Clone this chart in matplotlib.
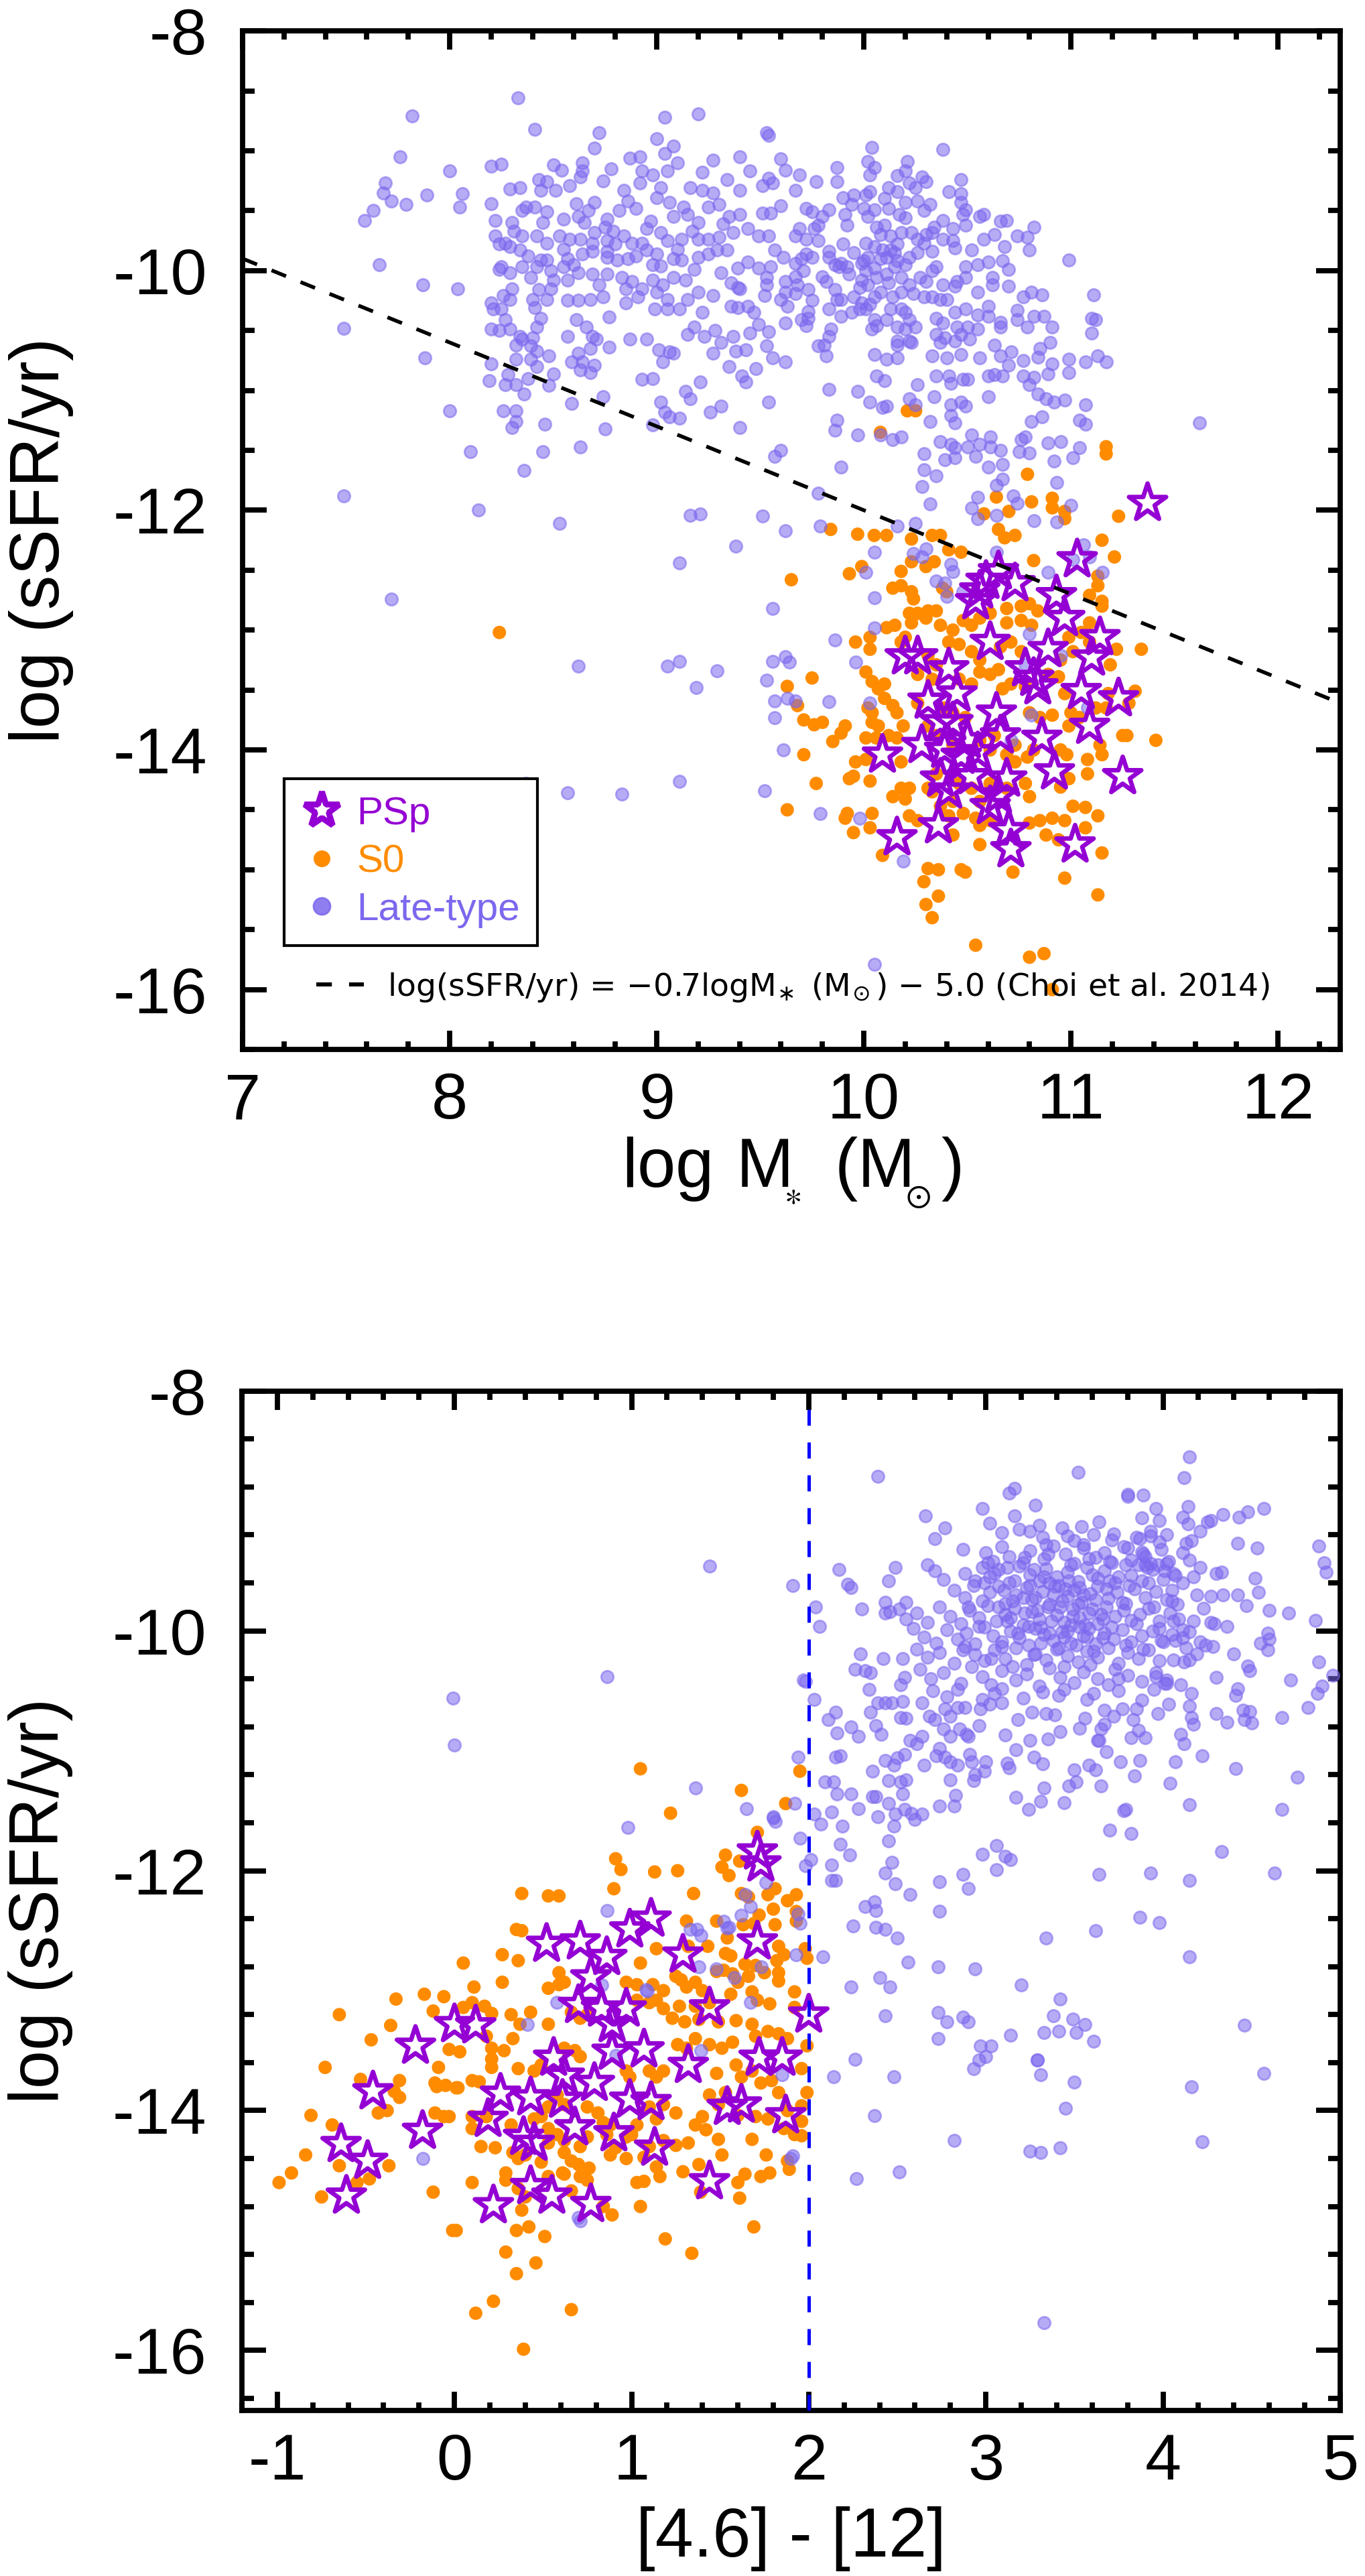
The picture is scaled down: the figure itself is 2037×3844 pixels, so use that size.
import numpy as np
import matplotlib
matplotlib.use('Agg')
import matplotlib.pyplot as plt
from matplotlib.lines import Line2D
from matplotlib.ticker import MultipleLocator
from matplotlib.font_manager import FontProperties

plt.rcParams['font.family'] = ['Liberation Sans', 'DejaVu Sans']
plt.rcParams['mathtext.fontset'] = 'dejavusans'
plt.rcParams['axes.unicode_minus'] = False

LATE = '#7B68EE'
S0C = '#FF8C00'
PSPC = '#9400D3'

# ---------------- top panel: log M* vs log sSFR ----------------
late_top = [
    (8.33, -8.56), (7.82, -8.71), (8.41, -8.82), (7.76, -9.05), (8.00, -9.17), (7.69, -9.27), (7.68, -9.35),
    (7.72, -9.42), (7.79, -9.45), (7.89, -9.37), (7.63, -9.50), (7.59, -9.58), (8.06, -9.36), (8.05, -9.47),
    (8.20, -9.13), (8.25, -9.11), (8.20, -9.44), (8.22, -9.58), (7.66, -9.95), (7.87, -10.12), (8.04, -10.15),
    (7.49, -10.48), (7.88, -10.73), (8.00, -11.17), (8.10, -11.51), (8.36, -11.67), (7.49, -11.88), (8.14, -12.00),
    (8.53, -12.11), (7.72, -12.74), (8.26, -11.17), (8.32, -11.17), (8.32, -11.26), (8.30, -11.31), (8.46, -11.28),
    (8.45, -11.51), (8.63, -11.47), (8.75, -11.32), (8.74, -11.05), (8.59, -11.11), (8.98, -11.29), (9.16, -12.04),
    (9.21, -12.03), (9.51, -12.05), (9.62, -12.17), (9.38, -12.30), (9.11, -12.44), (9.56, -12.82), (9.40, -11.31),
    (9.54, -11.10), (9.26, -11.18), (9.31, -11.13), (9.57, -11.55), (9.60, -11.50), (9.02, -11.10), (9.04, -11.18),
    (9.06, -11.22), (9.11, -11.23), (9.14, -11.01), (9.16, -11.07), (9.21, -10.93), (8.93, -10.91), (8.98, -10.90),
    (8.19, -10.92), (8.27, -10.95), (8.32, -10.95), (8.36, -11.03), (8.38, -10.90), (8.48, -10.96), (8.50, -10.86),
    (8.20, -10.78), (8.28, -10.87), (8.32, -10.74), (8.39, -10.74), (8.42, -10.80), (8.48, -10.71), (8.42, -10.67),
    (8.35, -10.57), (8.32, -10.62), (8.39, -10.63), (8.59, -10.76), (8.63, -10.83), (8.68, -10.85), (8.70, -10.79),
    (8.62, -10.69), (8.64, -10.76), (8.68, -10.65), (8.57, -10.55), (8.66, -10.47), (8.69, -10.55), (8.71, -10.57),
    (8.77, -10.64), (8.61, -10.41), (8.77, -10.39), (8.87, -10.57), (8.95, -10.57), (9.01, -10.66), (9.06, -10.68),
    (9.03, -10.76), (9.08, -10.69), (9.15, -10.53), (9.18, -10.47), (9.23, -10.55), (9.27, -10.69), (9.31, -10.60),
    (9.28, -10.50), (9.37, -10.55), (9.38, -10.67), (9.43, -10.66), (9.35, -10.80), (9.41, -10.88), (9.43, -10.93),
    (9.48, -10.82), (9.53, -10.63), (9.56, -10.73), (9.62, -10.76), (9.62, -10.44), (9.54, -10.51), (9.45, -10.52),
    (9.49, -10.45), (9.47, -10.35), (9.44, -10.30), (9.39, -10.31), (9.36, -10.30), (9.52, -10.21), (9.63, -10.30),
    (9.60, -10.24), (9.53, -10.12), (9.53, -10.06), (9.62, -10.09), (9.62, -10.18), (9.39, -10.14), (9.40, -10.15),
    (9.36, -10.10), (9.31, -10.02), (9.39, -9.98), (9.44, -9.93), (9.49, -9.98), (9.55, -9.97), (9.61, -9.89),
    (9.57, -9.83), (9.54, -9.71), (9.49, -9.71), (9.51, -9.52), (9.55, -9.52), (9.60, -9.46), (9.54, -9.23),
    (9.56, -9.27), (9.51, -9.29), (9.60, -9.07), (9.62, -9.16), (9.53, -8.85), (9.54, -8.87), (9.45, -9.17),
    (9.40, -9.05), (9.34, -9.24), (9.27, -9.08), (9.22, -9.18), (9.20, -8.69), (9.04, -8.72), (9.00, -8.90),
    (9.08, -8.96), (9.04, -9.02), (9.10, -9.10), (9.05, -9.17), (8.98, -9.20), (8.93, -9.17), (8.92, -9.05),
    (8.87, -9.06), (8.92, -9.27), (8.78, -9.15), (8.74, -9.25), (8.72, -8.85), (8.70, -8.98), (8.64, -9.10),
    (8.64, -9.17), (8.63, -9.22), (8.54, -9.16), (8.50, -9.12), (8.43, -9.24), (8.47, -9.26), (8.51, -9.33),
    (8.58, -9.29), (8.44, -9.33), (8.34, -9.31), (8.29, -9.32), (8.37, -9.47), (8.35, -9.50), (8.41, -9.47),
    (8.47, -9.51), (8.55, -9.57), (8.61, -9.44), (8.70, -9.43), (8.67, -9.50), (8.62, -9.55), (8.76, -9.57),
    (8.82, -9.50), (8.84, -9.33), (8.86, -9.42), (8.90, -9.48), (9.00, -9.39), (9.02, -9.31), (9.06, -9.43),
    (9.13, -9.47), (9.15, -9.53), (9.16, -9.31), (9.22, -9.33), (9.27, -9.35), (9.25, -9.47), (9.30, -9.45),
    (9.32, -9.61), (9.40, -9.53), (9.40, -9.33), (9.44, -9.65), (9.37, -9.68), (9.34, -9.83), (9.29, -9.83),
    (9.25, -9.74), (9.20, -9.74), (9.17, -9.67), (9.12, -9.74), (9.05, -9.75), (9.02, -9.68), (8.97, -9.59),
    (8.95, -9.65), (8.93, -9.77), (8.88, -9.77), (8.84, -9.71), (8.79, -9.67), (8.75, -9.64), (8.76, -9.75),
    (8.69, -9.77), (8.63, -9.74), (8.58, -9.74), (8.53, -9.71), (8.47, -9.77), (8.42, -9.71), (8.35, -9.71),
    (8.31, -9.67), (8.27, -9.77), (8.22, -9.71), (8.24, -9.78), (8.29, -9.80), (8.34, -9.83), (8.44, -9.91),
    (8.47, -9.91), (8.42, -9.97), (8.49, -10.00), (8.57, -9.90), (8.64, -9.86), (8.69, -9.84), (8.76, -9.84),
    (8.81, -9.91), (8.86, -9.90), (8.95, -9.83), (9.00, -9.86), (9.02, -9.96), (9.08, -9.90), (9.12, -9.91),
    (9.18, -9.99), (9.20, -9.89), (9.25, -9.86), (9.14, -10.08), (9.08, -10.06), (9.03, -10.12), (8.98, -10.08),
    (8.93, -10.15), (8.88, -10.09), (8.83, -10.06), (8.76, -10.03), (8.69, -10.03), (8.62, -10.02), (8.57, -10.08),
    (8.55, -9.97), (8.49, -10.15), (8.43, -10.16), (8.40, -10.24), (8.47, -10.24), (8.57, -10.25), (8.62, -10.25),
    (8.68, -10.24), (8.74, -10.22), (8.85, -10.27), (8.91, -10.22), (8.99, -10.32), (9.05, -10.32), (9.11, -10.32),
    (9.22, -10.35), (9.27, -10.21), (9.20, -10.18), (9.15, -10.24), (9.05, -10.24), (9.00, -10.18), (8.35, -9.97),
    (8.39, -10.06), (8.25, -9.97), (8.24, -9.99), (8.29, -10.02), (8.30, -10.15), (8.26, -10.21), (8.29, -10.24),
    (8.20, -10.27), (8.21, -10.32), (8.25, -10.32), (8.27, -10.41), (8.20, -10.49), (8.24, -10.50), (8.29, -10.49),
    (8.41, -10.31), (8.44, -10.40), (8.42, -10.47), (8.40, -10.56), (8.34, -10.55), (8.76, -9.89),
    (10.04, -8.97), (10.38, -8.99), (10.02, -9.09), (10.05, -9.14), (10.21, -9.09), (9.87, -9.14), (9.69, -9.20),
    (9.77, -9.26), (9.87, -9.26), (10.03, -9.20), (10.16, -9.21), (10.20, -9.17), (10.47, -9.24), (10.28, -9.22),
    (10.30, -9.26), (10.22, -9.27), (10.25, -9.31), (10.12, -9.31), (10.16, -9.34), (10.01, -9.37), (10.03, -9.34),
    (9.90, -9.39), (9.95, -9.37), (9.94, -9.45), (9.67, -9.33), (10.41, -9.34), (10.47, -9.36), (10.47, -9.43),
    (10.26, -9.42), (10.32, -9.45), (10.20, -9.43), (10.10, -9.40), (10.12, -9.48), (10.05, -9.49), (10.00, -9.48),
    (9.72, -9.48), (9.75, -9.51), (9.83, -9.49), (9.91, -9.53), (10.49, -9.49), (10.48, -9.53), (10.29, -9.50),
    (10.17, -9.53), (10.20, -9.56), (10.58, -9.53), (10.56, -9.55), (10.66, -9.59), (10.69, -9.58), (10.82, -9.64),
    (10.74, -9.71), (10.79, -9.72), (10.80, -9.83), (10.68, -9.80), (10.63, -9.70), (10.58, -9.74), (10.52, -9.83),
    (10.49, -9.62), (10.43, -9.65), (10.38, -9.58), (10.34, -9.64), (10.33, -9.68), (10.38, -9.74), (10.43, -9.75),
    (10.44, -9.81), (10.33, -9.84), (10.29, -9.77), (10.23, -9.68), (10.26, -9.74), (10.18, -9.68), (10.13, -9.71),
    (10.10, -9.62), (10.06, -9.64), (10.01, -9.77), (10.05, -9.80), (10.09, -9.83), (10.13, -9.83), (10.16, -9.78),
    (10.22, -9.89), (10.16, -9.92), (10.11, -9.89), (10.02, -9.89), (9.99, -9.94), (10.01, -10.00), (9.99, -10.08),
    (10.02, -10.12), (10.06, -10.06), (10.11, -10.03), (10.15, -9.97), (10.18, -10.06), (10.22, -10.12), (10.27, -10.06),
    (10.30, -10.09), (10.33, -10.00), (10.35, -9.97), (10.38, -10.12), (10.45, -10.09), (10.44, -10.13), (10.49, -10.06),
    (10.49, -9.97), (10.55, -9.95), (10.60, -9.93), (10.67, -9.92), (10.70, -9.99), (10.62, -10.06), (10.62, -10.12),
    (10.55, -10.18), (10.60, -10.30), (10.70, -10.13), (10.77, -10.22), (10.81, -10.18), (10.86, -10.20), (10.74, -10.33),
    (10.82, -10.38), (10.87, -10.38), (10.91, -10.47), (10.79, -10.47), (10.74, -10.41), (10.66, -10.43), (10.66, -10.47),
    (10.60, -10.38), (10.55, -10.37), (10.49, -10.32), (10.44, -10.35), (10.40, -10.24), (10.37, -10.24), (10.33, -10.22),
    (10.29, -10.22), (10.24, -10.19), (10.18, -10.18), (10.14, -10.22), (10.08, -10.18), (10.05, -10.22), (9.99, -10.27),
    (10.01, -10.32), (9.98, -10.32), (9.94, -10.35), (9.89, -10.38), (9.83, -10.32), (9.87, -10.24), (9.89, -10.24),
    (9.82, -10.09), (9.86, -10.16), (9.73, -10.16), (9.68, -10.12), (9.67, -10.19), (9.73, -10.34), (9.73, -10.40),
    (9.70, -10.41), (9.72, -10.46), (9.84, -10.49), (9.78, -10.63), (9.81, -10.62), (9.82, -10.71), (9.83, -10.55),
    (9.89, -9.94), (9.88, -9.97), (9.92, -9.97), (9.83, -9.84), (9.83, -9.89), (9.75, -9.89), (9.72, -9.86),
    (9.70, -9.90), (9.67, -9.94), (9.71, -10.00), (9.67, -10.05), (9.76, -9.65), (9.78, -9.62), (9.69, -9.65),
    (9.67, -9.71), (9.72, -9.74), (10.13, -10.32), (10.18, -10.32), (10.05, -10.41), (10.04, -10.49), (10.06, -10.46),
    (10.11, -10.41), (10.16, -10.47), (10.20, -10.35), (10.22, -10.41), (10.25, -10.47), (10.20, -10.49), (10.22, -10.59),
    (10.23, -10.60), (10.16, -10.59), (10.16, -10.62), (10.05, -10.70), (10.11, -10.74), (10.16, -10.73), (10.06, -10.88),
    (10.10, -10.92), (9.83, -10.99), (9.97, -11.01), (10.03, -11.10), (10.11, -11.13), (10.22, -11.07), (10.26, -10.95),
    (10.25, -11.12), (10.34, -11.05), (10.35, -10.88), (10.41, -10.88), (10.42, -10.94), (10.48, -10.91), (10.50, -10.91),
    (10.33, -10.71), (10.40, -10.73), (10.47, -10.70), (10.37, -10.60), (10.35, -10.53), (10.39, -10.56), (10.44, -10.59),
    (10.47, -10.53), (10.45, -10.47), (10.38, -10.44), (10.35, -10.40), (10.51, -10.57), (10.50, -10.47), (10.55, -10.49),
    (10.56, -10.73), (10.63, -10.62), (10.66, -10.71), (10.71, -10.68), (10.70, -10.79), (10.60, -10.88), (10.63, -10.87),
    (10.67, -10.88), (10.60, -11.05), (10.77, -10.75), (10.77, -10.88), (10.82, -10.89), (10.80, -10.95), (10.84, -10.72),
    (10.85, -10.65), (10.90, -10.60), (10.91, -10.78), (10.89, -10.86), (10.99, -10.74), (10.99, -10.85), (11.07, -10.76),
    (11.13, -10.71), (11.17, -10.76), (10.99, -9.91), (11.11, -10.20), (11.10, -10.40), (11.12, -10.41), (11.10, -10.52),
    (10.84, -11.03), (10.88, -11.07), (10.92, -11.10), (10.97, -11.08), (11.07, -11.12), (10.42, -11.12), (10.47, -11.10),
    (10.49, -11.13), (10.42, -11.21), (10.44, -11.27), (10.32, -11.26), (10.09, -11.14), (9.87, -11.25), (9.86, -11.33),
    (9.97, -11.37), (10.08, -11.37), (10.14, -11.41), (10.18, -11.39), (10.37, -11.43), (10.42, -11.45), (10.44, -11.48),
    (10.50, -11.47), (10.52, -11.37), (10.54, -11.55), (10.44, -11.56), (10.39, -11.58), (10.29, -11.53), (10.29, -11.66),
    (10.35, -11.71), (10.28, -11.80), (10.32, -11.95), (10.56, -11.45), (10.61, -11.39), (10.61, -11.47), (10.66, -11.50),
    (10.60, -11.64), (10.67, -11.62), (10.67, -11.74), (10.64, -11.79), (10.76, -11.41), (10.78, -11.39), (10.75, -11.51),
    (10.80, -11.52), (10.81, -11.26), (10.86, -11.22), (10.89, -11.44), (10.95, -11.43), (11.04, -11.48), (11.01, -11.56),
    (11.04, -11.25), (11.07, -11.28), (10.92, -11.59), (10.93, -11.77), (11.62, -11.27), (9.89, -11.64), (9.78, -11.86),
    (10.16, -12.13), (10.25, -12.11), (10.55, -11.89), (10.52, -11.98), (10.55, -12.07), (10.64, -12.04), (10.72, -11.88),
    (10.74, -11.94), (10.82, -12.09), (10.93, -12.10), (11.00, -11.96), (9.79, -12.13), (10.05, -12.35), (10.01, -12.52),
    (10.24, -12.36), (10.30, -12.32), (10.28, -12.39), (10.42, -12.45), (10.05, -12.73), (10.64, -12.35), (11.01, -12.41),
    (11.06, -12.29), (10.89, -12.52), (11.15, -12.52),
    (9.11, -14.26), (9.52, -14.34), (9.79, -14.53), (10.05, -15.79), (10.19, -14.93), (9.11, -13.26), (9.29, -13.34),
    (9.19, -13.48), (9.56, -13.26), (9.62, -13.22), (9.64, -13.27), (9.53, -13.42), (9.57, -13.59), (9.63, -13.57),
    (9.67, -13.59), (9.57, -13.73), (9.61, -14.00), (9.83, -13.60), (9.86, -13.08), (9.96, -13.27), (10.05, -12.98),
    (10.35, -12.59), (10.39, -12.61), (10.43, -12.51), (10.40, -12.72), (10.48, -12.68), (11.09, -12.39), (10.80, -13.03),
    (10.78, -13.29), (10.95, -13.21), (10.81, -13.71), (10.71, -13.92), (11.08, -13.65), (10.03, -13.61), (9.98, -14.57),
    (8.37, -14.28), (8.57, -14.36), (8.83, -14.37), (8.62, -13.30), (9.05, -13.30),
    (9.90, -9.78), (9.95, -9.85), (10.00, -9.92), (10.05, -9.98), (9.93, -10.03), (9.98, -10.14), (10.08, -9.90),
    (10.12, -10.10), (9.86, -9.95), (9.80, -10.05), (9.78, -9.75), (10.15, -9.85), (10.20, -9.95), (10.26, -9.85),
    (10.30, -9.70), (9.95, -10.22), (10.03, -10.28), (9.75, -10.25), (9.80, -9.55), (9.92, -9.62), (10.02, -9.55),
    (10.08, -9.70), (8.55, -9.82), (8.60, -9.95), (8.70, -9.68), (8.80, -9.78), (8.90, -9.88), (8.98, -9.95),
    (9.10, -9.82), (9.20, -9.60), (9.08, -9.55), (8.45, -9.60), (8.38, -9.88), (8.50, -10.08), (8.72, -10.12),
    (8.85, -10.15), (9.30, -9.72), (9.35, -9.55), (8.65, -9.60), (8.30, -9.60),
]

s0_top = [
    (10.21, -11.17), (10.25, -11.17), (10.08, -11.35), (11.17, -11.47), (11.17, -11.53), (10.79, -11.70), (9.84, -12.16),
    (9.97, -12.20), (10.05, -12.21), (10.11, -12.21), (10.23, -12.24), (10.33, -12.21), (10.37, -12.21), (10.64, -11.89),
    (10.81, -11.93), (10.91, -11.90), (10.91, -11.98), (10.97, -12.01), (10.97, -12.07), (10.58, -12.03), (10.70, -12.01),
    (11.23, -12.05), (10.65, -12.16), (10.73, -12.21), (10.68, -12.23), (11.15, -12.25), (11.21, -12.39), (10.82, -12.42),
    (10.41, -12.33), (10.47, -12.35), (9.93, -12.53), (9.99, -12.47), (10.23, -12.43), (10.18, -12.51), (10.30, -12.47),
    (10.34, -12.43), (9.65, -12.58), (10.14, -12.65), (10.18, -12.63), (10.23, -12.68), (10.24, -12.74), (10.38, -12.65),
    (10.40, -12.68), (11.13, -12.55), (11.13, -12.63), (11.09, -12.71), (11.15, -12.76), (10.22, -12.86), (10.26, -12.86),
    (10.31, -12.84), (10.35, -12.84), (10.23, -12.94), (10.30, -12.90), (10.37, -12.96), (10.43, -13.00), (10.48, -12.92),
    (10.52, -12.96), (10.56, -12.90), (10.61, -12.86), (10.69, -12.82), (10.76, -12.80), (10.80, -12.78), (10.84, -12.84),
    (10.69, -12.94), (10.76, -12.92), (10.81, -12.96), (11.09, -12.94), (11.15, -12.80), (10.11, -12.98), (10.15, -12.96),
    (10.03, -13.06), (10.18, -13.10), (10.20, -13.06), (11.22, -13.16), (11.34, -13.16), (11.05, -13.02), (11.09, -13.10),
    (9.96, -13.10), (10.03, -13.16), (10.41, -13.10), (10.46, -13.12), (10.52, -13.18), (10.56, -13.25), (10.66, -13.14),
    (10.71, -13.10), (10.76, -13.18), (10.99, -13.06), (11.01, -13.18), (10.95, -13.25), (10.01, -13.35), (10.04, -13.43),
    (10.07, -13.49), (10.10, -13.45), (9.75, -13.40), (9.63, -13.47), (9.68, -13.63), (9.71, -13.75), (9.76, -13.79),
    (9.80, -13.77), (9.85, -13.93), (9.89, -13.86), (9.91, -13.80), (10.02, -13.65), (10.04, -13.69), (10.04, -13.77),
    (10.07, -13.80), (10.10, -13.57), (10.14, -13.63), (10.16, -13.69), (10.19, -13.80), (10.01, -13.90), (10.06, -13.90),
    (10.12, -13.88), (10.16, -13.90), (10.56, -13.35), (10.61, -13.37), (10.65, -13.33), (10.46, -13.41), (10.52, -13.45),
    (10.67, -13.49), (10.71, -13.45), (10.78, -13.47), (10.89, -13.37), (10.94, -13.39), (10.97, -13.53), (11.19, -13.29),
    (11.18, -13.53), (11.31, -13.51), (11.28, -13.61), (11.41, -13.92), (11.12, -13.65), (11.17, -13.65), (11.00, -13.69),
    (11.04, -13.73), (10.99, -13.80), (10.80, -13.69), (10.85, -13.73), (10.91, -13.71), (11.25, -13.88), (11.27, -13.88),
    (11.14, -13.96), (11.15, -14.04), (11.08, -14.08), (11.08, -14.20), (10.95, -14.00), (10.98, -14.04), (10.99, -14.24),
    (10.95, -14.31), (10.82, -14.00), (10.79, -14.06), (10.73, -13.96), (10.69, -14.04), (10.73, -14.10), (10.01, -14.08),
    (9.96, -14.10), (9.93, -14.24), (9.95, -14.22), (10.03, -14.26), (10.18, -14.10), (10.18, -14.32), (10.22, -14.32),
    (10.14, -14.39), (10.20, -14.41), (9.92, -14.53), (9.91, -14.57), (9.95, -14.69), (10.04, -14.53), (10.03, -14.65),
    (9.63, -14.50), (9.77, -14.28), (9.71, -14.04), (10.09, -14.88), (10.22, -14.55), (10.26, -14.59), (10.31, -14.99),
    (10.36, -15.00), (10.29, -15.10), (10.36, -15.22), (10.30, -15.29), (10.33, -15.40), (10.47, -15.00), (10.49, -15.02),
    (10.41, -14.55), (10.48, -14.53), (10.54, -14.57), (10.56, -14.63), (10.61, -14.59), (10.72, -15.02), (10.80, -14.61),
    (10.85, -14.59), (10.88, -14.71), (10.94, -14.75), (10.91, -14.57), (10.97, -14.59), (11.01, -14.47), (11.07, -14.48),
    (11.13, -14.55), (11.07, -14.65), (11.15, -14.86), (10.97, -15.07), (11.13, -15.21), (10.54, -15.63), (10.80, -15.73),
    (10.87, -15.70), (10.91, -16.00), (10.43, -14.71), (10.56, -14.79), (10.31, -13.21), (10.35, -13.29), (10.26, -13.37),
    (10.33, -13.41), (10.26, -13.61), (10.39, -13.65), (10.43, -13.69), (10.49, -13.73), (10.31, -13.80), (10.35, -13.88),
    (10.43, -13.96), (10.56, -13.92), (10.61, -14.00), (10.63, -13.88), (10.35, -14.20), (10.31, -14.32), (10.46, -14.28),
    (10.52, -14.32), (10.61, -14.28), (10.69, -14.32), (10.78, -14.28), (10.80, -14.39), (10.43, -14.43), (10.56, -14.43),
    (10.37, -14.47), (10.33, -14.35), (8.24, -13.02),
]

psp_top = [
    (11.37, -11.94), (11.03, -12.41), (10.65, -12.51), (10.59, -12.59), (10.73, -12.61), (10.54, -12.76), (10.93, -12.71),
    (10.97, -12.90), (11.14, -13.06), (10.61, -13.10), (10.20, -13.22), (10.26, -13.22), (10.89, -13.16), (11.10, -13.23),
    (10.41, -13.32), (10.78, -13.32), (10.84, -13.47), (11.05, -13.51), (11.23, -13.57), (10.31, -13.59), (10.45, -13.53),
    (10.64, -13.69), (11.09, -13.80), (10.37, -13.77), (10.86, -13.90), (10.66, -13.88), (10.50, -13.92), (10.28, -13.96),
    (10.09, -14.04), (10.39, -14.00), (11.25, -14.22), (10.92, -14.18), (10.52, -14.22), (10.37, -14.24), (10.69, -14.24),
    (10.41, -14.34), (10.65, -14.38), (10.61, -14.47), (10.36, -14.63), (10.16, -14.73), (10.70, -14.67), (11.02, -14.79),
    (10.71, -14.83), (10.56, -12.67), (10.82, -13.40), (10.43, -13.77), (10.55, -14.02), (10.47, -14.05),
]

choi_slope = -0.7
choi_icpt = -5.0

# ---------------- bottom panel: [4.6]-[12] vs log sSFR ----------------
late_bot = [
    (2.39, -8.71), (3.52, -8.68), (4.15, -8.55), (4.12, -8.72), (3.13, -8.85), (3.16, -8.81), (2.98, -8.98),
    (3.28, -8.95), (2.66, -9.04), (2.77, -9.14), (2.71, -9.23), (2.87, -9.32), (3.16, -9.04), (3.80, -8.86),
    (3.80, -8.88), (3.89, -8.87), (3.96, -8.98), (4.14, -8.96), (4.57, -8.98), (4.48, -9.01), (4.43, -9.05),
    (4.34, -9.03), (4.27, -9.08), (4.25, -9.09), (4.11, -9.05), (4.14, -9.11), (4.21, -9.17), (3.88, -9.06),
    (3.98, -9.08), (4.02, -9.20), (4.42, -9.27), (4.53, -9.31), (4.88, -9.29), (4.91, -9.43), (4.92, -9.51),
    (4.52, -9.56), (4.30, -9.52), (4.33, -9.51), (4.21, -9.47), (4.54, -9.68), (4.42, -9.70), (4.34, -9.70),
    (4.27, -9.71), (4.19, -9.70), (4.47, -9.79), (4.23, -9.81), (4.60, -9.83), (4.71, -9.85), (4.86, -9.91),
    (4.36, -9.96), (4.29, -9.94), (4.27, -9.93), (4.59, -10.02), (4.60, -10.07), (4.55, -10.10), (4.59, -10.16),
    (4.24, -10.12), (4.28, -10.13), (4.21, -10.09), (4.40, -10.19), (4.48, -10.29), (4.49, -10.33), (4.88, -10.26),
    (4.96, -10.37), (4.90, -10.46), (4.87, -10.52), (4.82, -10.64), (4.72, -10.41), (4.67, -10.72), (4.30, -10.39),
    (4.42, -10.48), (4.41, -10.54), (4.45, -10.66), (4.49, -10.67), (4.46, -10.74), (4.50, -10.77), (4.30, -10.69),
    (4.36, -10.76), (4.15, -10.63), (4.16, -10.72), (4.17, -10.78), (4.10, -10.86), (4.12, -10.94), (4.22, -11.04),
    (4.07, -11.09), (4.04, -11.27), (4.41, -11.15), (4.76, -11.22), (4.15, -11.45), (4.67, -11.49), (4.33, -11.84),
    (4.63, -12.02), (4.15, -12.08), (3.93, -12.02), (3.64, -12.03), (3.87, -12.39), (3.98, -12.43), (3.62, -12.50),
    (3.34, -12.56), (3.70, -11.66), (3.82, -11.69), (3.78, -11.50), (3.79, -11.49), (3.84, -11.21), (3.87, -11.08),
    (3.90, -10.89), (3.86, -10.83), (3.82, -10.89), (3.76, -11.09), (3.68, -11.01), (3.63, -10.91), (3.65, -11.29),
    (3.58, -11.12), (3.62, -11.16), (3.50, -11.16), (3.51, -11.26), (3.47, -11.29), (3.44, -11.43), (3.33, -11.31),
    (3.31, -11.42), (3.24, -11.49), (3.17, -11.39), (3.32, -11.11), (3.27, -11.05), (3.17, -10.99), (3.12, -11.10),
    (3.13, -11.14), (3.00, -11.09), (2.99, -11.17), (2.93, -11.25), (2.94, -11.20), (2.91, -11.03), (2.92, -11.09),
    (2.84, -11.12), (2.80, -11.24), (2.83, -11.37), (2.82, -11.46), (2.74, -11.46), (2.65, -11.12), (2.80, -11.09),
    (2.77, -11.05), (2.74, -10.98), (2.72, -11.04), (2.50, -11.06), (2.54, -11.03), (2.48, -11.12), (2.43, -11.08),
    (2.36, -11.17), (2.45, -11.25), (2.52, -11.26), (2.55, -11.24), (2.53, -11.36), (2.38, -11.38), (2.45, -11.44),
    (2.39, -11.55), (2.49, -11.53), (2.54, -11.49), (2.58, -11.52), (2.60, -11.57), (2.64, -11.53), (2.48, -11.63),
    (2.45, -11.75), (2.47, -11.93), (2.43, -12.02), (2.49, -12.11), (2.57, -12.20), (2.74, -12.09), (2.74, -12.34),
    (2.87, -12.03), (2.90, -12.15), (2.98, -11.86), (3.06, -11.79), (3.11, -11.88), (3.14, -11.91), (3.06, -11.99),
    (2.28, -11.48), (2.36, -11.38), (2.24, -11.36), (2.16, -11.36), (2.09, -11.26), (2.14, -11.26), (2.03, -11.53),
    (2.07, -11.61), (2.13, -11.51), (2.19, -11.63), (2.18, -11.78), (2.23, -11.87), (2.01, -11.91), (1.98, -11.96),
    (2.13, -11.95), (2.15, -12.08), (2.13, -12.08), (2.32, -12.30), (2.37, -12.26), (2.38, -12.33), (2.25, -12.46),
    (2.38, -12.47), (2.43, -12.49), (2.50, -12.56),
    (2.17, -9.49), (2.22, -9.61), (2.24, -9.64), (2.04, -9.80), (2.06, -9.96), (2.30, -9.82), (2.43, -9.76),
    (2.43, -9.85), (2.46, -9.84), (2.55, -9.76), (2.45, -9.58), (2.49, -9.47), (2.29, -10.19), (2.42, -10.23),
    (2.53, -10.23), (2.26, -10.32), (2.32, -10.33), (2.35, -10.35), (1.98, -10.42), (2.03, -10.57), (2.34, -10.49),
    (2.15, -10.68), (2.11, -10.74), (2.35, -10.68), (2.38, -10.79), (2.41, -10.86), (2.24, -10.80), (2.28, -10.88),
    (2.16, -10.85), (2.39, -10.60), (2.43, -10.60), (2.47, -10.60), (2.53, -10.59), (2.52, -10.45), (2.54, -10.39),
    (2.15, -11.05), (2.18, -11.04), (2.57, -10.91), (2.61, -10.94), (2.64, -10.88), (2.52, -10.72), (2.55, -10.73),
    (2.64, -10.60), (2.68, -10.71), (2.71, -10.74), (2.76, -10.82), (2.80, -10.88), (2.85, -10.82), (2.77, -10.65),
    (2.80, -10.71), (2.84, -10.64), (2.88, -10.64), (2.89, -10.86), (2.90, -10.88), (2.96, -10.79), (2.97, -10.65),
    (3.02, -10.61), (3.09, -10.60), (3.11, -10.87), (3.18, -10.74), (3.25, -10.91), (3.35, -10.90), (3.42, -10.84),
    (3.34, -10.69), (3.39, -10.70), (3.26, -10.68), (3.53, -10.81), (3.56, -10.73), (3.64, -10.91), (3.65, -10.82),
    (3.67, -10.78), (3.67, -10.66), (3.72, -10.71), (3.77, -10.65), (3.83, -10.74), (3.85, -10.65), (3.88, -10.58),
    (3.97, -10.69), (4.03, -10.61), (3.95, -10.49), (4.01, -10.44), (4.02, -10.41), (4.10, -10.45), (4.16, -10.52),
    (3.96, -10.38), (4.06, -10.24), (4.12, -10.26), (4.15, -10.24), (4.19, -10.19), (4.07, -10.08), (4.13, -10.14),
    (4.00, -10.09), (4.17, -9.92), (4.11, -9.99), (4.15, -10.01), (4.06, -9.92), (4.08, -9.78), (4.05, -9.75),
    (4.17, -9.55), (4.11, -9.60), (4.07, -9.54), (4.02, -9.44), (4.01, -9.50), (4.15, -9.41), (4.11, -9.35),
    (4.16, -9.25), (4.13, -9.27), (3.91, -9.47), (3.93, -9.44), (3.97, -9.45), (4.03, -9.42), (3.87, -9.23),
    (3.93, -9.21), (3.98, -9.26), (3.99, -9.32), (3.89, -9.36), (3.90, -9.38),
    (3.02, -9.10), (3.09, -9.18), (3.19, -9.15), (3.25, -9.17), (3.30, -9.12), (3.32, -9.22), (3.34, -9.28),
    (3.43, -9.14), (3.46, -9.21), (3.50, -9.25), (3.54, -9.13), (3.55, -9.28), (3.61, -9.20), (3.64, -9.09),
    (3.71, -9.24), (3.72, -9.19), (3.80, -9.31), (3.85, -9.22), (3.93, -9.17),
    (3.00, -9.35), (3.04, -9.42), (3.09, -9.30), (3.13, -9.38), (3.21, -9.43), (3.25, -9.33), (3.33, -9.40),
    (3.38, -9.29), (3.45, -9.36), (3.50, -9.44), (3.55, -9.31), (3.62, -9.39), (3.67, -9.35), (3.71, -9.43),
    (3.78, -9.30), (3.82, -9.41), (3.88, -9.34), (3.90, -9.45),
    (2.67, -9.45), (2.71, -9.50), (2.76, -9.57), (2.88, -9.52), (2.94, -9.58), (2.98, -9.47), (3.02, -9.55),
    (3.07, -9.49), (3.13, -9.60), (3.19, -9.46), (3.25, -9.53), (3.30, -9.58), (3.34, -9.48), (3.40, -9.55),
    (3.46, -9.51), (3.52, -9.59), (3.57, -9.47), (3.63, -9.56), (3.67, -9.50), (3.73, -9.60), (3.79, -9.45),
    (3.82, -9.54), (3.88, -9.58), (3.94, -9.49), (4.00, -9.57), (4.06, -9.52),
    (2.82, -9.66), (2.88, -9.72), (2.93, -9.62), (2.98, -9.75), (3.02, -9.68), (3.07, -9.63), (3.11, -9.77),
    (3.17, -9.70), (3.23, -9.64), (3.26, -9.74), (3.32, -9.67), (3.36, -9.78), (3.41, -9.62), (3.46, -9.71),
    (3.50, -9.66), (3.54, -9.76), (3.59, -9.69), (3.63, -9.63), (3.69, -9.73), (3.74, -9.68), (3.79, -9.77),
    (3.84, -9.65), (3.90, -9.72), (3.96, -9.67), (4.02, -9.74),
    (2.51, -9.82), (2.55, -9.90), (2.61, -9.85), (2.67, -9.93), (2.74, -9.80), (2.80, -9.88), (2.86, -9.94),
    (2.91, -9.83), (2.96, -9.89), (3.01, -9.79), (3.06, -9.92), (3.11, -9.86), (3.16, -9.81), (3.21, -9.95),
    (3.26, -9.84), (3.30, -9.90), (3.35, -9.80), (3.40, -9.87), (3.44, -9.93), (3.49, -9.82), (3.53, -9.89),
    (3.58, -9.85), (3.63, -9.94), (3.68, -9.80), (3.73, -9.88), (3.78, -9.83), (3.82, -9.91), (3.87, -9.86),
    (3.92, -9.81), (3.98, -9.92), (4.04, -9.85), (4.09, -9.90),
    (2.59, -9.98), (2.65, -10.05), (2.72, -10.10), (2.78, -9.99), (2.84, -10.07), (2.89, -10.02), (2.94, -10.11),
    (2.99, -9.97), (3.04, -10.04), (3.09, -10.09), (3.14, -10.00), (3.19, -10.06), (3.24, -10.12), (3.28, -9.98),
    (3.33, -10.03), (3.38, -10.08), (3.43, -10.01), (3.48, -10.10), (3.53, -9.97), (3.57, -10.05), (3.62, -10.11),
    (3.67, -10.02), (3.72, -10.07), (3.77, -9.99), (3.82, -10.09), (3.88, -10.04), (3.94, -10.00), (3.99, -10.08),
    (4.05, -10.03), (4.11, -10.06),
    (2.61, -10.15), (2.67, -10.22), (2.74, -10.18), (2.82, -10.27), (2.88, -10.13), (2.94, -10.20), (2.99, -10.25),
    (3.05, -10.16), (3.11, -10.23), (3.17, -10.14), (3.23, -10.28), (3.28, -10.19), (3.34, -10.24), (3.40, -10.15),
    (3.46, -10.21), (3.52, -10.26), (3.57, -10.17), (3.63, -10.22), (3.69, -10.14), (3.75, -10.27), (3.80, -10.18),
    (3.86, -10.23), (3.92, -10.16), (3.98, -10.25),
    (2.63, -10.32), (2.69, -10.40), (2.76, -10.35), (2.86, -10.44), (2.92, -10.30), (2.98, -10.38), (3.03, -10.45),
    (3.09, -10.33), (3.17, -10.41), (3.23, -10.36), (3.30, -10.46), (3.36, -10.31), (3.42, -10.39), (3.50, -10.43),
    (3.55, -10.34), (3.63, -10.40), (3.69, -10.45), (3.73, -10.32), (3.80, -10.37), (3.88, -10.42), (3.96, -10.35),
    (4.02, -10.44),
    (2.70, -10.50), (2.78, -10.55), (2.84, -10.49), (2.98, -10.57), (3.05, -10.52), (3.09, -10.48), (3.21, -10.56),
    (3.32, -10.51), (3.41, -10.54), (3.44, -10.49), (3.57, -10.57), (3.61, -10.52), (3.75, -10.50),
    (3.28, -9.72), (3.36, -9.60), (3.42, -9.80), (3.48, -9.95), (3.55, -9.70), (3.22, -9.85), (3.31, -9.97),
    (3.45, -9.65), (3.60, -9.82), (3.15, -9.75), (3.38, -9.70), (3.52, -9.78), (3.70, -9.58), (3.25, -9.62),
    (3.58, -9.98), (3.12, -9.92), (3.66, -9.90), (3.44, -10.05),
    (3.05, -9.52), (3.10, -9.66), (3.16, -9.58), (3.21, -9.72), (3.27, -9.49), (3.29, -9.83), (3.33, -9.55),
    (3.37, -9.92), (3.39, -9.63), (3.43, -9.75), (3.47, -9.58), (3.49, -9.88), (3.53, -9.64), (3.56, -9.95),
    (3.60, -9.53), (3.62, -9.74), (3.65, -9.86), (3.68, -9.65), (3.71, -9.97), (3.75, -9.55), (3.77, -9.76),
    (3.81, -9.62), (3.85, -9.94), (3.14, -9.89), (3.18, -10.02), (3.24, -9.96), (3.31, -10.10), (3.36, -10.02),
    (3.41, -10.14), (3.46, -10.00), (3.51, -10.12), (3.55, -10.04), (3.61, -10.17), (3.66, -10.06), (3.07, -9.80),
    (3.09, -10.13), (2.99, -9.60), (2.96, -9.96), (3.92, -9.60), (3.95, -9.80), (3.70, -9.42), (3.58, -9.40),
    (3.48, -9.45), (3.35, -9.36), (3.22, -9.39), (3.12, -9.47), (3.01, -9.43), (3.86, -9.45), (3.79, -10.12),
    (3.89, -10.15), (3.27, -10.20), (3.44, -10.30), (3.59, -10.28), (3.15, -10.30), (3.03, -10.23), (3.75, -10.40),
    (2.90, -9.80), (2.87, -10.16), (3.98, -9.98), (4.05, -9.66),
    (2.08, -12.72), (2.56, -12.76), (2.73, -12.80), (2.94, -12.82), (4.15, -12.72), (2.40, -12.89), (2.24, -12.97),
    (2.46, -12.97), (3.20, -12.95), (3.42, -13.07), (2.43, -13.21), (2.73, -13.18), (2.78, -13.26), (2.87, -13.22),
    (2.90, -13.26), (2.73, -13.40), (2.97, -13.46), (3.03, -13.46), (3.00, -13.55), (2.96, -13.58), (2.93, -13.65),
    (3.14, -13.37), (3.33, -13.35), (3.41, -13.34), (3.38, -13.21), (3.49, -13.24), (3.56, -13.28), (3.51, -13.35),
    (3.61, -13.42), (3.29, -13.58), (3.29, -13.58), (3.31, -13.70), (3.50, -13.76), (3.45, -13.98), (2.26, -13.57),
    (2.14, -13.72), (2.48, -13.72), (2.37, -14.04), (2.82, -14.25), (3.25, -14.34), (3.31, -14.35), (3.42, -14.31),
    (2.27, -14.57), (2.51, -14.51), (4.22, -14.26), (4.16, -13.80), (4.46, -13.29), (4.57, -13.69), (3.33, -15.77),
    (-0.01, -10.56), (0.00, -10.95), (0.86, -10.38), (1.44, -9.46), (1.91, -9.62), (1.36, -11.31), (0.98, -11.64),
    (1.65, -11.48), (1.80, -11.56), (1.92, -11.44), (1.97, -10.41), (1.94, -11.05), (0.86, -12.33), (1.54, -12.48),
    (1.33, -12.49), (1.64, -12.20), (1.67, -12.30), (1.94, -12.36), (1.08, -12.99), (0.58, -13.10), (0.41, -13.28),
    (1.48, -12.82), (1.58, -12.89), (-0.18, -14.40), (0.70, -14.89), (1.90, -14.40), (0.91, -13.54), (1.39, -13.50),
    (1.37, -12.49), (1.39, -12.54), (1.52, -12.42), (1.55, -12.47), (1.62, -12.37), (1.76, -12.10), (1.80, -11.55),
    (1.81, -11.59), (1.95, -11.73), (1.95, -12.44), (1.93, -12.70), (1.85, -13.70), (1.91, -14.38), (0.71, -14.92),
    (1.38, -12.80), (1.73, -12.80), (1.67, -13.10), (1.09, -13.00), (0.83, -12.95),
]

s0_bot = [
    (1.22, -11.52), (0.91, -11.90), (0.94, -11.99), (1.13, -12.01), (1.26, -12.00), (0.90, -12.15), (0.38, -12.19),
    (0.53, -12.21), (0.59, -12.21), (1.35, -12.19), (1.71, -11.68), (1.53, -11.87), (1.51, -11.97), (1.55, -12.04),
    (1.61, -11.92), (1.62, -12.19), (1.66, -12.22), (1.77, -12.20), (1.81, -12.15), (1.88, -12.25), (1.93, -12.20),
    (1.80, -12.32), (1.93, -12.34), (1.93, -12.42), (1.72, -12.37), (1.81, -12.45), (1.31, -12.42), (1.48, -12.42),
    (1.54, -12.56), (1.63, -12.45), (1.69, -12.44), (0.35, -12.49), (0.38, -12.50), (1.14, -12.65), (1.32, -12.63),
    (1.43, -12.63), (1.53, -12.69), (0.27, -12.70), (0.36, -12.75), (1.83, -12.63), (1.86, -12.70), (1.82, -12.75),
    (1.98, -12.65), (1.99, -12.73), (0.05, -12.77), (1.05, -12.77), (1.56, -12.71), (1.64, -12.78), (1.70, -12.79),
    (1.75, -12.85), (1.83, -12.85), (1.83, -12.92), (1.48, -12.84), (1.52, -12.83), (1.57, -12.86), (1.60, -12.93),
    (1.66, -12.88), (0.59, -12.85), (0.62, -12.93), (0.27, -12.93), (0.11, -12.97), (0.97, -12.93), (1.03, -12.95),
    (1.12, -12.95), (1.18, -13.00), (1.25, -12.88), (1.28, -12.91), (1.31, -12.97), (1.36, -12.93), (1.40, -13.00),
    (0.53, -12.98), (0.59, -12.95), (1.03, -13.08), (1.10, -13.10), (1.14, -13.08), (1.18, -13.15), (1.27, -13.13),
    (1.36, -13.13), (1.44, -13.10), (1.56, -13.03), (1.68, -13.01), (1.71, -13.08), (1.78, -13.11), (1.92, -13.01),
    (1.92, -13.14), (-0.33, -13.07), (-0.17, -13.03), (-0.06, -13.05), (0.05, -13.14), (0.10, -13.10), (0.17, -13.13),
    (0.21, -13.19), (-0.65, -13.20), (-0.12, -13.17), (-0.36, -13.29), (-0.47, -13.41), (0.32, -13.20), (0.37, -13.28),
    (0.43, -13.18), (0.53, -13.28), (0.66, -13.18), (0.71, -13.23), (0.75, -13.20), (1.23, -13.23), (1.30, -13.26),
    (1.38, -13.24), (1.49, -13.26), (1.59, -13.25), (1.68, -13.28), (1.70, -13.38), (1.77, -13.34), (1.83, -13.36),
    (1.88, -13.40), (1.99, -13.46), (0.18, -13.38), (0.21, -13.48), (0.28, -13.50), (0.33, -13.40), (-0.09, -13.64),
    (-0.03, -13.49), (0.03, -13.51), (-0.73, -13.64), (-0.53, -13.74), (-0.31, -13.75), (-0.31, -13.89), (-0.34, -13.84),
    (-0.11, -13.77), (-0.05, -13.79), (0.02, -13.81), (0.10, -13.75), (0.14, -13.76), (0.21, -13.57), (0.21, -13.64),
    (0.36, -13.65), (0.45, -13.67), (0.49, -13.62), (0.62, -13.48), (0.68, -13.50), (0.71, -13.55), (0.97, -13.67),
    (0.99, -13.72), (1.10, -13.67), (1.14, -13.72), (1.18, -13.67), (1.26, -13.45), (1.31, -13.48), (1.36, -13.40),
    (1.44, -13.45), (1.51, -13.48), (1.57, -13.43), (1.48, -13.69), (1.59, -13.62), (1.62, -13.72), (1.68, -13.67),
    (1.73, -13.77), (1.79, -13.75), (1.83, -13.85), (1.96, -13.65), (1.99, -13.85), (1.44, -13.87), (1.49, -13.95),
    (1.53, -13.85), (1.40, -14.05), (1.36, -14.12), (1.42, -14.16), (1.49, -14.24), (1.51, -14.37), (1.60, -14.04),
    (1.70, -14.05), (1.77, -14.07), (1.88, -14.00), (1.96, -13.96), (1.96, -14.09), (1.86, -14.15), (1.92, -14.20),
    (1.96, -14.21), (1.68, -14.24), (1.76, -14.37), (1.88, -14.42), (1.89, -14.49), (1.78, -14.52), (1.73, -14.55),
    (1.64, -14.53), (1.60, -14.60), (1.61, -14.73), (1.38, -14.45), (1.39, -14.68), (1.29, -14.51), (1.25, -14.29),
    (1.32, -14.27), (1.18, -14.25), (1.10, -14.30), (1.07, -14.39), (1.14, -14.47), (1.16, -14.55), (1.03, -14.60),
    (1.07, -14.59), (1.05, -14.80), (0.97, -14.22), (0.97, -14.40), (0.88, -14.37), (0.91, -14.31), (1.25, -14.02),
    (1.14, -14.07), (1.18, -13.95), (1.10, -13.97), (1.03, -14.12), (1.00, -14.20), (0.75, -13.97), (0.81, -14.02),
    (0.84, -14.10), (0.88, -14.12), (0.86, -14.20), (0.75, -14.22), (0.71, -14.30), (0.62, -14.35), (0.66, -14.42),
    (0.70, -14.45), (0.76, -14.48), (0.75, -14.58), (0.66, -14.67), (0.58, -13.87), (0.62, -13.95), (0.53, -13.97),
    (0.49, -14.05), (0.45, -14.07), (0.53, -14.15), (0.58, -14.20), (0.62, -14.25), (0.53, -14.27), (0.32, -14.12),
    (0.33, -14.35), (0.40, -14.37), (0.36, -14.40), (0.49, -14.43), (0.53, -14.55), (0.62, -14.53), (0.10, -14.05),
    (0.18, -14.05), (0.10, -14.15), (0.15, -14.30), (0.23, -14.31), (0.29, -14.52), (0.29, -14.58), (0.36, -14.65),
    (0.40, -14.72), (0.38, -14.83), (-0.03, -14.05), (0.01, -13.81), (-0.10, -13.80), (-0.11, -14.02), (-0.06, -14.05),
    (-0.38, -14.00), (-0.43, -14.02), (-0.69, -14.12), (-0.65, -14.46), (-0.55, -14.60), (-0.48, -14.57), (-0.37, -14.46),
    (-0.81, -14.04), (-0.84, -14.37), (-0.92, -14.52), (-0.99, -14.60), (-0.75, -14.72), (-0.12, -14.68), (0.10, -14.60),
    (-0.01, -15.00), (0.01, -15.00), (0.29, -15.18), (0.35, -15.36), (0.46, -15.27), (0.35, -15.00), (0.42, -14.97),
    (0.51, -15.05), (1.19, -15.07), (1.34, -15.19), (1.69, -14.97), (0.84, -14.80), (0.89, -14.87), (0.71, -14.55),
    (0.61, -14.52), (0.12, -15.69), (0.22, -15.59), (0.39, -15.99), (0.66, -15.66), (1.05, -11.15), (1.95, -11.17),
    (1.62, -11.33), (1.87, -11.44),
]

psp_bot = [
    (1.71, -11.84), (1.73, -11.94), (1.11, -12.40), (0.99, -12.49), (0.52, -12.61), (0.71, -12.59), (0.86, -12.72),
    (1.29, -12.70), (1.71, -12.59), (0.77, -12.89), (0.70, -13.12), (0.83, -13.15), (0.97, -13.15), (0.89, -13.28),
    (1.44, -13.14), (2.00, -13.20), (0.00, -13.28), (0.12, -13.29), (-0.22, -13.46), (0.89, -13.51), (1.07, -13.49),
    (0.56, -13.56), (1.32, -13.62), (1.72, -13.56), (1.85, -13.56), (0.62, -13.71), (0.79, -13.77), (-0.46, -13.84),
    (0.26, -13.86), (0.43, -13.89), (0.61, -13.91), (0.99, -13.91), (1.11, -13.93), (1.54, -13.97), (1.62, -13.95),
    (1.87, -14.04), (0.19, -14.07), (-0.18, -14.17), (0.68, -14.14), (0.90, -14.19), (0.39, -14.22), (0.45, -14.27),
    (-0.64, -14.28), (1.13, -14.31), (-0.49, -14.42), (1.44, -14.59), (0.43, -14.63), (0.55, -14.71), (-0.61, -14.71),
    (0.22, -14.79), (0.77, -14.78),
]

color_cut = 2.0

yticks = [-8, -10, -12, -14, -16]
ytick_labels = ['-8', '-10', '-12', '-14', '-16']
top_xticks = [7, 8, 9, 10, 11, 12]
top_xtick_labels = ['7', '8', '9', '10', '11', '12']
bot_xticks = [-1, 0, 1, 2, 3, 4, 5]
bot_xtick_labels = ['-1', '0', '1', '2', '3', '4', '5']


def draw_points(ax, late, s0, psp):
    sx, sy = zip(*s0)
    lx, ly = zip(*late)
    px, py = zip(*psp)
    ax.scatter(sx, sy, s=52, c=S0C, edgecolors='none', zorder=2)
    ax.scatter(lx, ly, s=44, c=LATE, alpha=0.55, edgecolors=LATE, linewidths=1.0, zorder=3)
    ax.scatter(px, py, s=440, marker='*', facecolors='none', edgecolors=PSPC, linewidths=2.4, zorder=4)


def style_axes(ax, ymin_step):
    ax.tick_params(which='both', direction='in', top=True, right=True, width=2.8)
    ax.tick_params(axis='x', which='major', length=10)
    ax.tick_params(axis='x', which='minor', length=4.5)
    ax.tick_params(axis='y', which='major', length=13)
    ax.tick_params(axis='y', which='minor', length=6.5)
    ax.tick_params(axis='x', pad=12, labelsize=35)
    ax.tick_params(axis='y', pad=19, labelsize=35)
    ax.yaxis.set_minor_locator(MultipleLocator(ymin_step))
    ax.xaxis.set_minor_locator(MultipleLocator(0.2))
    ax.set_yticks(yticks)
    ax.set_yticklabels(ytick_labels)
    ax.set_ylim(-16.5, -8)
    for sp in ax.spines.values():
        sp.set_linewidth(2.8)


fig = plt.figure(figsize=(10.185, 19.22), dpi=200)
ax1 = fig.add_axes([0.1777, 0.5926, 0.8041, 0.3954])
ax2 = fig.add_axes([0.1772, 0.0643, 0.8046, 0.3957])

# top panel
draw_points(ax1, late_top, s0_top, psp_top)
xl = np.array([7.0, 12.3])
ax1.plot(xl, choi_slope * xl + choi_icpt, color='black', lw=2.0, ls=(0, (4.2, 4.2)), zorder=5)
ax1.set_xlim(7.0, 12.3)
ax1.set_xticks(top_xticks)
ax1.set_xticklabels(top_xtick_labels)
style_axes(ax1, 0.5)
ax1.set_ylabel('log (sSFR/yr)', fontsize=37)
ax1.yaxis.set_label_coords(-0.154, 0.5)
ax1.set_xlabel(r'$\mathregular{log\ M_{_{\!\!\!\ast}}\ (M_{_{\!\!\!\odot}})}$', fontsize=37)
ax1.xaxis.set_label_coords(0.5, -0.085)

handles = [
    Line2D([], [], ls='none', marker='*', ms=20, mfc='none', mec=PSPC, mew=3.2),
    Line2D([], [], ls='none', marker='o', ms=9, mfc=S0C, mec='none'),
    Line2D([], [], ls='none', marker='o', ms=9, mfc=LATE, mec=LATE, alpha=0.85),
]
leg1 = ax1.legend(handles, ['PSp', 'S0', 'Late-type'], loc='lower left', bbox_to_anchor=(0.038, 0.102),
                  borderaxespad=0, fontsize=21, frameon=True, fancybox=False, edgecolor='black',
                  framealpha=1, handlelength=1.0, handletextpad=0.4, borderpad=0.45, labelspacing=0.3,
                  labelcolor=[PSPC, S0C, LATE])
leg1.get_frame().set_linewidth(1.5)
leg1.set_zorder(10)
ax1.add_artist(leg1)

choi_handle = Line2D([], [], color='black', lw=2.2, ls=(0, (3.8, 4.2)))
choi_prop = FontProperties(family='DejaVu Sans', size=17, math_fontfamily='dejavusans')
choi_label = 'log(sSFR/yr) = \u22120.7logM$_{\\!\\ast}$ (M$_{\\!\\odot}$) \u2212 5.0 (Choi et al. 2014)'
leg2 = ax1.legend([choi_handle], [choi_label],
                  loc='center left', bbox_to_anchor=(0.067, 0.061), borderaxespad=0, borderpad=0,
                  frameon=False, prop=choi_prop, handlelength=1.5, handletextpad=0.75)
leg2.set_zorder(10)

# bottom panel
draw_points(ax2, late_bot, s0_bot, psp_bot)
ax2.plot([color_cut, color_cut], [-16.5, -8.15], color='blue', lw=1.8, ls=(0, (4.8, 5.0)), zorder=5)
ax2.set_xlim(-1.2, 5.0)
ax2.set_xticks(bot_xticks)
ax2.set_xticklabels(bot_xtick_labels)
style_axes(ax2, 0.4)
ax2.set_ylabel('log (sSFR/yr)', fontsize=37)
ax2.yaxis.set_label_coords(-0.154, 0.5)
ax2.set_xlabel('[4.6] - [12]', fontsize=37)
ax2.xaxis.set_label_coords(0.5, -0.094)

fig.savefig('out.png', dpi=200)
